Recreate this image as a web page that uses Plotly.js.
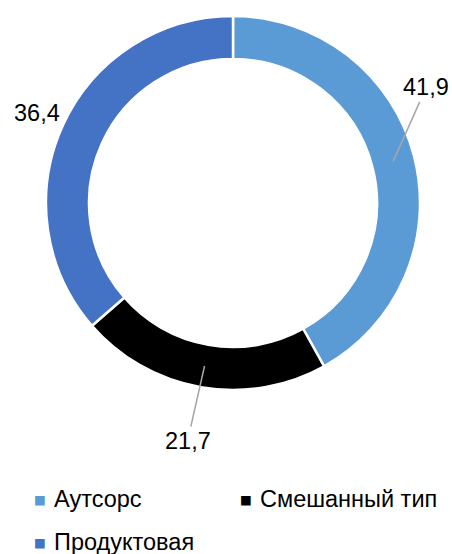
<!DOCTYPE html>
<html><head><meta charset="utf-8">
<script src="https://cdn.plot.ly/plotly-3.0.1.min.js"></script>
<style>html,body{margin:0;padding:0;background:#fff}#c{width:452px;height:554px}</style>
</head><body><div id="c"></div>
<script>
const labels = ['Аутсорс', 'Смешанный тип', 'Продуктовая'];
const values = [41.9, 21.7, 36.4];
const valueText = ['41,9', '21,7', '36,4'];
const colors = ['#5B9BD5', '#000000', '#4472C4'];

// style: label offsets (px) from slice mid-ring point, and whether a leader line is drawn
const labelOffsets = [[33, -74], [-17, 75], [-45, -21]];
const showLeader = [true, true, false];
// style: legend item positions (px): marker centre x, text left x, row centre y
const legendPos = [[40, 52, 499], [246, 258, 499], [40, 52, 542]];

const W = 452, H = 554;
const cx = 233, cy = 203, R = 187, hole = 0.77;
const FONT = 'Liberation Sans, Arial, sans-serif';
const FS = 23.5;
const domX = [(cx - R) / W, (cx + R) / W];
const domY = [1 - (cy + R) / H, 1 - (cy - R) / H];
const rMid = R * (1 + hole) / 2;

const total = values.reduce((a, b) => a + b, 0);
let cum = 0;
const annotations = [];
values.forEach((v, i) => {
  const mid = (cum + v / 2) / total * 2 * Math.PI;
  cum += v;
  const px = cx + rMid * Math.sin(mid);
  const py = cy - rMid * Math.cos(mid);
  annotations.push({
    xref: 'paper', yref: 'paper', x: px / W, y: 1 - py / H,
    text: valueText[i], showarrow: true, arrowhead: 0,
    arrowwidth: 1.5, arrowcolor: showLeader[i] ? '#A6A6A6' : 'rgba(0,0,0,0)',
    ax: labelOffsets[i][0], ay: labelOffsets[i][1],
    font: {family: FONT, size: FS, color: '#000'}
  });
});

labels.forEach((lab, i) => {
  const [mx, tx, ry] = legendPos[i];
  annotations.push({
    xref: 'paper', yref: 'paper', x: mx / W, y: 1 - ry / H,
    xanchor: 'center', yanchor: 'middle', showarrow: false,
    text: '■', font: {family: 'DejaVu Sans', size: 12.5, color: colors[i]}
  });
  annotations.push({
    xref: 'paper', yref: 'paper', x: tx / W, y: 1 - ry / H,
    xanchor: 'left', yanchor: 'middle', showarrow: false,
    text: lab, font: {family: FONT, size: FS, color: '#000'}
  });
});

const data = [{
  type: 'pie', labels: labels, values: values, hole: hole,
  sort: false, direction: 'clockwise', rotation: 0,
  marker: {colors: colors, line: {color: '#ffffff', width: 2.5}},
  textinfo: 'none', hoverinfo: 'none', showlegend: false,
  domain: {x: domX, y: domY}
}];

const layout = {
  width: W, height: H,
  margin: {l: 0, r: 0, t: 0, b: 0, autoexpand: false},
  paper_bgcolor: '#fff',
  showlegend: false,
  annotations: annotations
};

Plotly.newPlot('c', data, layout, {displayModeBar: false, staticPlot: true});
</script>
</body></html>
